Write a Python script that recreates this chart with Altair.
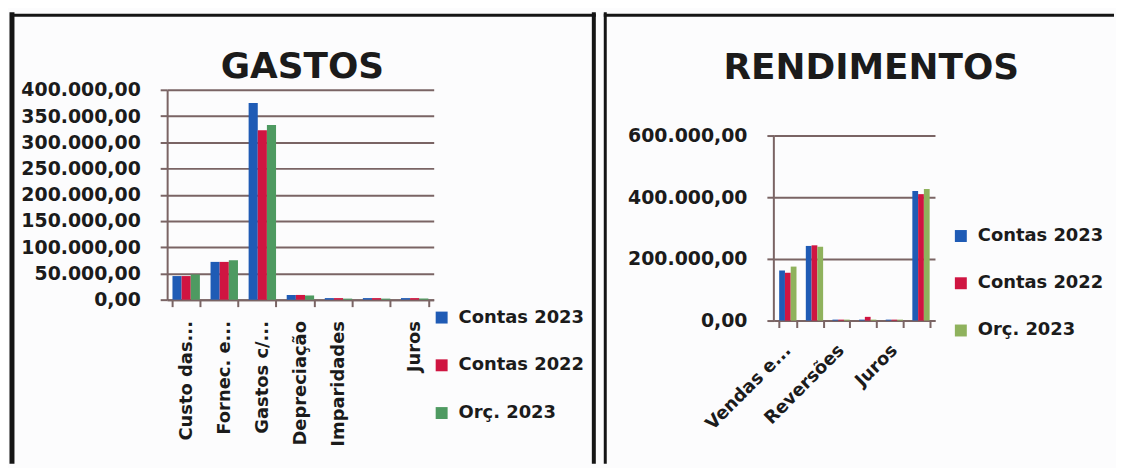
import altair as alt
import pandas as pd

FONT = "DejaVu Sans"

series = ["Contas 2023", "Contas 2022", "Orç. 2023"]

# ---- GASTOS ----
gastos_title = "GASTOS"
gastos_cats = ["Custo das...", "Fornec. e...", "Gastos c/...", "Depreciação",
               "Imparidades", "Outros gastos", "Juros"]
gastos_c2023 = [45000, 72000, 375000, 9000, 3000, 3000, 3000]
gastos_c2022 = [45000, 72000, 323000, 9000, 3000, 3000, 3000]
gastos_orc2023 = [48000, 75000, 333000, 8000, 2000, 2000, 2000]
gastos_ticks = [0, 50000, 100000, 150000, 200000, 250000, 300000, 350000, 400000]
gastos_hidden_labels = ["Outros gastos"]
gastos_colors = ["#1f5bb5", "#cf1541", "#4e9a61"]

# ---- RENDIMENTOS ----
rend_title = "RENDIMENTOS"
rend_cats = ["Vendas e...", "Subsídios", "Reversões", "Outros rendimentos",
             "Juros", "Outros"]
rend_c2023 = [162000, 242000, 3000, 3000, 3000, 420000]
rend_c2022 = [155000, 244000, 3000, 12000, 3000, 410000]
rend_orc2023 = [175000, 239000, 3000, 3000, 3000, 427000]
rend_ticks = [0, 200000, 400000, 600000]
rend_axis_max = 600000
rend_shown_labels = ["Vendas e...", "Reversões", "Juros"]
rend_colors = ["#1f5bb5", "#cf1541", "#8fb25d"]


def long_table(cats, a, b, c):
    rows = []
    for i, cat in enumerate(cats):
        for s, vals in zip(series, (a, b, c)):
            rows.append({"cat": cat, "serie": s, "valor": vals[i]})
    return pd.DataFrame(rows)


df_g = long_table(gastos_cats, gastos_c2023, gastos_c2022, gastos_orc2023)
df_r = long_table(rend_cats, rend_c2023, rend_c2022, rend_orc2023)

LABEL_EXPR_Y = "datum.value == 0 ? '0,00' : format(datum.value / 1000, 'd') + '.000,00'"
GRID = "#7a6464"
INK = "#1b1b1b"
FRAME = "#151515"
BG = "#fcfcfd"

one = pd.DataFrame({"k": [0]})


def vrule(x, y1, y2, w):
    return alt.Chart(one).mark_rule(color=FRAME, strokeWidth=w).encode(
        x=alt.value(x), y=alt.value(y1), y2=alt.value(y2))


def hrule(x1, x2, y, w):
    return alt.Chart(one).mark_rule(color=FRAME, strokeWidth=w).encode(
        x=alt.value(x1), x2=alt.value(x2), y=alt.value(y))


def title_text(text, x, y):
    return alt.Chart(pd.DataFrame({"t": [text]})).mark_text(
        font=FONT, fontSize=36, fontWeight="bold", color=INK,
        align="center", baseline="alphabetic").encode(
        x=alt.value(x), y=alt.value(y), text="t:N")


def legend(x, y, row_pad):
    return alt.Legend(orient="none", legendX=x, legendY=y, title=None,
                      symbolType="square", symbolSize=144, symbolStrokeWidth=0,
                      labelFontSize=18, labelFont=FONT, labelFontWeight="bold",
                      labelColor=INK, rowPadding=row_pad, labelOffset=8,
                      padding=0, labelLimit=300)


NO_FRAME = alt.ViewBackground(stroke="transparent", strokeWidth=0, strokeOpacity=0, fill=BG)

# ---------- left panel ----------
GW, GH = 268, 211
bars_g = alt.Chart(df_g).mark_bar().encode(
    x=alt.X("cat:N", sort=gastos_cats, title=None,
            scale=alt.Scale(paddingInner=0.28, paddingOuter=0.14),
            axis=alt.Axis(labelAngle=-90, labelAlign="right", labelBaseline="middle",
                          labelFontSize=18, labelFont=FONT, labelFontWeight="bold",
                          labelColor=INK, labelPadding=14, tickSize=7, tickBand="extent",
                          tickColor=GRID, tickWidth=2, domainColor=GRID, domainWidth=2,
                          labelLimit=300,
                          labelExpr="indexof(" + str(gastos_hidden_labels) + ", datum.label) >= 0 ? '' : datum.label")),
    xOffset=alt.XOffset("serie:N", sort=series),
    y=alt.Y("valor:Q", title=None,
            scale=alt.Scale(domain=[0, 400000], nice=False),
            axis=alt.Axis(values=gastos_ticks, labelExpr=LABEL_EXPR_Y,
                          labelFontSize=19, labelFont=FONT, labelFontWeight="bold",
                          labelColor=INK, labelPadding=20, tickSize=7,
                          tickColor=GRID, tickWidth=2, domainColor=GRID, domainWidth=2,
                          grid=True, gridColor=GRID, gridWidth=2)),
    color=alt.Color("serie:N", sort=series,
                    scale=alt.Scale(domain=series, range=gastos_colors),
                    legend=legend(267, 220, 30)),
)

left = alt.layer(
    bars_g,
    title_text(gastos_title, 136, -12),
    vrule(-156, -78, 376, 5),
    hrule(-158, 431, -75, 3),
    vrule(429, -78, 376, 4),
).properties(width=GW, height=GH, view=NO_FRAME)

# ---------- right panel ----------
# plot area of 186 px for 0..600k, extended 46 px upward (empty) so that
# both panels share the same top in the concat grid
RW, RH_AXIS, RH_EXTRA = 162, 186, 46
RH = RH_AXIS + RH_EXTRA
rend_scale_max = rend_axis_max * RH / RH_AXIS

bars_r = alt.Chart(df_r).mark_bar().encode(
    x=alt.X("cat:N", sort=rend_cats, title=None,
            scale=alt.Scale(paddingInner=0.35, paddingOuter=0.2),
            axis=alt.Axis(labelAngle=-45, labelAlign="right", labelBaseline="middle",
                          labelFontSize=18, labelFont=FONT, labelFontWeight="bold",
                          labelColor=INK, labelPadding=20, tickSize=7, tickBand="extent",
                          tickColor=GRID, tickWidth=2, domainColor=GRID, domainWidth=2,
                          labelLimit=300,
                          labelExpr="indexof(" + str(rend_shown_labels) + ", datum.label) >= 0 ? datum.label : ''")),
    xOffset=alt.XOffset("serie:N", sort=series),
    y=alt.Y("valor:Q", title=None,
            scale=alt.Scale(domain=[0, rend_scale_max], nice=False, zero=True),
            axis=alt.Axis(values=rend_ticks, labelExpr=LABEL_EXPR_Y,
                          labelFontSize=19, labelFont=FONT, labelFontWeight="bold",
                          labelColor=INK, labelPadding=20, tickSize=7,
                          tickColor=GRID, tickWidth=2, domain=False,
                          grid=True, gridColor=GRID, gridWidth=2)),
    color=alt.Color("serie:N", sort=series,
                    scale=alt.Scale(domain=series, range=rend_colors),
                    legend=legend(179, 138, 29.5)),
)

rend_axis_line = alt.Chart(one).mark_rule(color=GRID, strokeWidth=2).encode(
    x=alt.value(0), y=alt.datum(0), y2=alt.datum(rend_axis_max))

right = alt.layer(
    bars_r,
    rend_axis_line,
    title_text(rend_title, 98, -11),
    vrule(-169.5, -78, 376, 3),
    hrule(-171, 342, -75, 3),
).properties(width=RW, height=RH, view=NO_FRAME)

chart = alt.hconcat(left, right, spacing=4).resolve_scale(
    color="independent", x="independent", y="independent", xOffset="independent"
).properties(
    padding={"left": 0, "top": 0, "right": 0, "bottom": 0},
    background=BG,
).configure_view(stroke="transparent", strokeWidth=0, fill=BG).configure(font=FONT)

chart.save("out.html", embed_options={"renderer": "svg", "actions": False})
